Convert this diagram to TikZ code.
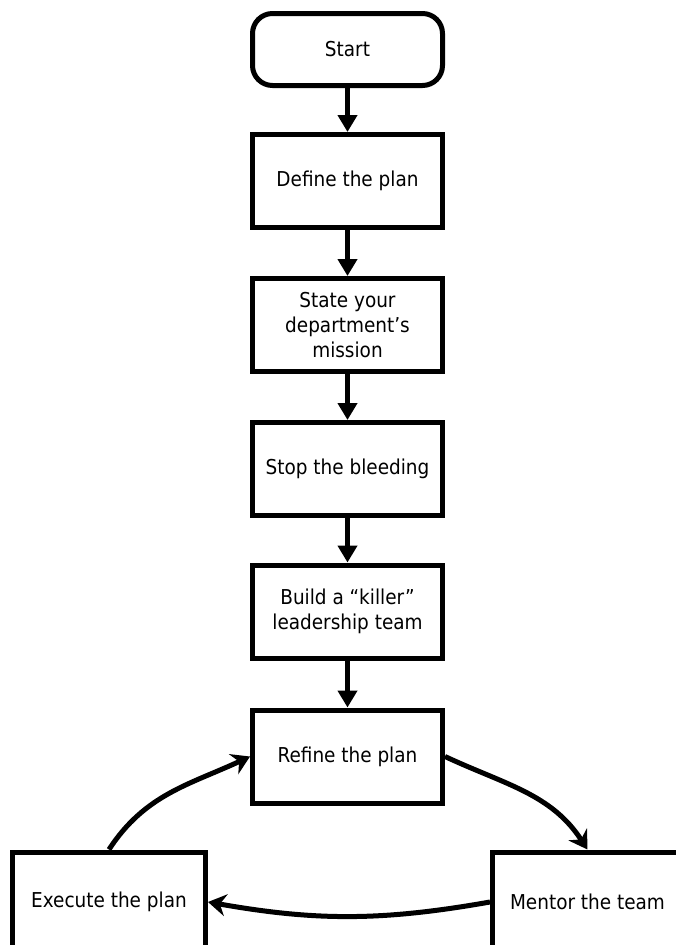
\documentclass[tikz,border=0pt]{standalone}
\usepackage{fontspec}
\setmainfont{DejaVu Sans Condensed}
\usetikzlibrary{arrows.meta}
\begin{document}
\begin{tikzpicture}[x=1pt,y=-1pt,
  box/.style={draw, line width=5pt, minimum width=190pt, minimum height=93pt,
    align=center, inner sep=2pt, font=\fontsize{20.5}{25}\selectfont},
  startbox/.style={box, rounded corners=20pt, minimum height=72pt},
  flow/.style={line width=5pt, -{Triangle[width=19pt,length=17pt]}},
  loop/.style={line width=5pt, -{Stealth[width=22pt,length=18pt,inset=6pt]}}]
\useasboundingbox (0,0) rectangle (676,945);
\node[startbox] (start) at (347.5,49.5) {Start};
\node[box] (define) at (347.5,181) {Define the plan};
\node[box] (state) at (347.5,325) {State your\\department’s\\mission};
\node[box] (stop) at (347.5,469) {Stop the bleeding};
\node[box] (build) at (347.5,611.5) {Build a “killer”\\leadership team};
\node[box] (refine) at (347.5,756.5) {Refine the plan};
\node[box, minimum width=193pt, minimum height=100pt] (execute) at (109,902) {Execute the plan};
\node[box, minimum height=100pt] (mentor) at (587.5,902) {Mentor the team};
\draw[flow] (start) -- (define);
\draw[flow] (define) -- (state);
\draw[flow] (state) -- (stop);
\draw[flow] (stop) -- (build);
\draw[flow] (build) -- (refine);
\draw[loop] (execute.north) to[out=57,in=-155] (refine.west);
\draw[loop] (refine.east) to[out=-25,in=123] (mentor.north);
\draw[loop] (mentor.west) to[out=190,in=-10] (execute.east);
\end{tikzpicture}
\end{document}
